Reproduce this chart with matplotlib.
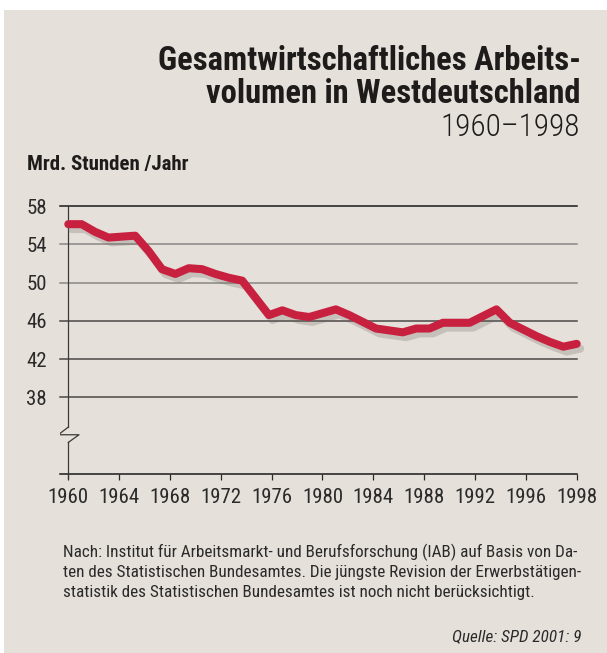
import numpy as np
import matplotlib.pyplot as plt
import matplotlib.patheffects as pe
from matplotlib.patches import Rectangle

# Arbeitsvolumen Westdeutschland, Mrd. Stunden pro Jahr
years = np.arange(1960, 1999)
stunden = [56.1, 56.1, 55.3, 54.7, 54.8, 54.9, 53.3, 51.4, 50.9, 51.5,
           51.4, 50.9, 50.5, 50.2, 48.4, 46.6, 47.1, 46.6, 46.4, 46.8,
           47.2, 46.6, 45.9, 45.2, 45.0, 44.8, 45.2, 45.2, 45.8, 45.8,
           45.8, 46.5, 47.2, 45.8, 45.1, 44.4, 43.8, 43.3, 43.6]

y_ticks = [38, 42, 46, 50, 54, 58]
x_labels = ['1960', '1964', '1968', '1972', '1976', '1980',
            '1984', '1988', '1992', '1996', '1998']

fuss = ['Nach: Institut für Arbeitsmarkt- und Berufsforschung (IAB) auf Basis von Da-',
        'ten des Statistischen Bundesamtes. Die jüngste Revision der Erwerbstätigen-',
        'statistik des Statistischen Bundesamtes ist noch nicht berücksichtigt.']

plt.rcParams['font.family'] = ['Roboto Condensed', 'DejaVu Sans']

bg = '#e5e0da'
fig = plt.figure(figsize=(6.07, 6.53), dpi=100, facecolor='white')
fig.patches.append(Rectangle((4 / 607, 0), 1, 1 - 10 / 653, transform=fig.transFigure,
                             facecolor=bg, edgecolor='none', zorder=-10))

ax = fig.add_axes([60 / 607, 1 - 474 / 653, 516.7 / 607, 268 / 653])
ax.set_facecolor('none')
ax.set_xlim(1960 - 8.3 / 13.38, 1998)
ax.set_ylim(30, 58)
for s in ax.spines.values():
    s.set_visible(False)

# Gitterlinien
for v in y_ticks:
    c = '#1a1a1a' if v == 58 else ('#8a8784' if v in (54, 50) else '#4a4846')
    ax.axhline(v, color=c, lw=1.1, zorder=1, clip_on=False)
ax.axhline(30, color='#1a1a1a', lw=1.1, zorder=1, clip_on=False)

# y-Achse mit Unterbrechung
ax.plot([1960, 1960], [58, 34.9], color='#3a3a3a', lw=0.9, zorder=2)
ax.plot([1960, 1960], [33.3, 29.6], color='#3a3a3a', lw=0.9, zorder=2, clip_on=False)
zx = [1960, 1960 - 0.75, 1960 + 0.8, 1960]
zy = [34.9, 34.1, 34.1, 33.3]
ax.plot(zx, zy, color='#3a3a3a', lw=0.9, zorder=2)

ax.set_yticks(y_ticks)
ax.set_yticklabels([str(v) for v in y_ticks])
ax.tick_params(axis='y', length=0, pad=9.5, labelsize=15, labelcolor='#2a2a2a')

xt = np.linspace(1960, 1998, len(x_labels))
ax.set_xticks(xt)
ax.set_xticklabels(x_labels)
ax.tick_params(axis='x', length=4, width=0.9, color='#2a2a2a', pad=6,
               labelsize=15, labelcolor='#2a2a2a')

ax.plot(years, stunden, color='#c8203f', lw=5.8, solid_capstyle='round',
        solid_joinstyle='round', zorder=5, clip_on=False,
        path_effects=[pe.SimpleLineShadow(offset=(2.5, -3.5), shadow_color='#6b6460', alpha=0.25),
                      pe.Normal()])

# Texte
fig.text(581 / 607, 1 - 70 / 653, 'Gesamtwirtschaftliches Arbeits-', ha='right',
         va='baseline', fontsize=23.5, fontweight='bold', color='#1e1c1b')
fig.text(581 / 607, 1 - 103 / 653, 'volumen in Westdeutschland', ha='right',
         va='baseline', fontsize=23.5, fontweight='bold', color='#1e1c1b')
fig.text(580 / 607, 1 - 136 / 653, '1960\u20131998', ha='right', va='baseline',
         fontsize=22.5, fontweight='light', color='#1e1c1b')
fig.text(27 / 607, 1 - 170 / 653, 'Mrd. Stunden /Jahr', ha='left', va='baseline',
         fontsize=15, fontweight='bold', color='#1e1c1b')

for i, zeile in enumerate(fuss):
    fig.text(63 / 607, 1 - (557 + 20 * i) / 653, zeile, ha='left', va='baseline',
             fontsize=12.3, color='#2a2a2a')
fig.text(582 / 607, 1 - 641 / 653, 'Quelle: SPD 2001: 9', ha='right', va='baseline',
         fontsize=12.3, style='italic', color='#2a2a2a')

fig.savefig('out.png', dpi=100, facecolor='white')
